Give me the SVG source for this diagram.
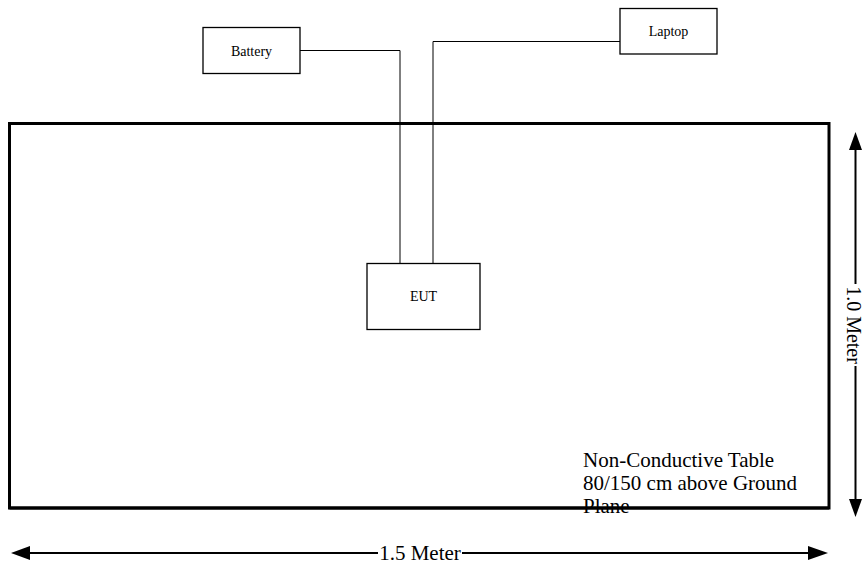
<svg xmlns="http://www.w3.org/2000/svg" width="865" height="570" viewBox="0 0 865 570">
<style>
.box{fill:#fff;stroke:#000;stroke-width:1.3}
.lbl{font-family:"Liberation Serif",serif;font-size:14px;fill:#000;text-anchor:middle}
.big{font-family:"Liberation Serif",serif;font-size:21px;fill:#000}
.wire{fill:none;stroke:#000;stroke-width:1}
.dim{fill:none;stroke:#000;stroke-width:2}
</style>
<rect id="table" x="9.5" y="123.5" width="819.5" height="384.5" fill="#fff" stroke="#000" stroke-width="3"/>
<g id="connectors">
<polyline class="wire" points="300,50.5 400,50.5 400,263"/>
<polyline class="wire" points="620,41.5 433,41.5 433,263"/>
<line class="dim" x1="855.5" y1="150" x2="855.5" y2="284"/>
<line class="dim" x1="855.5" y1="366" x2="855.5" y2="499"/>
<path d="M855.5,132 L862,150 L849,150 Z" fill="#000"/>
<path d="M855.5,517 L862,499 L849,499 Z" fill="#000"/>
<line class="dim" x1="30" y1="553" x2="378" y2="553"/>
<line class="dim" x1="462" y1="553" x2="808" y2="553"/>
<path d="M11,553 L30,546 L30,560 Z" fill="#000"/>
<path d="M828,553 L808,546 L808,560 Z" fill="#000"/>
</g>
<g id="battery">
<rect class="box" x="203" y="27.5" width="97" height="46"/>
<text class="lbl" x="251.5" y="56">Battery</text>
</g>
<g id="laptop">
<rect class="box" x="620" y="8.5" width="97" height="45.5"/>
<text class="lbl" x="668.5" y="36">Laptop</text>
</g>
<g id="eut">
<rect class="box" x="367" y="263.5" width="113" height="66"/>
<text class="lbl" x="423.5" y="301">EUT</text>
</g>
<g id="labels">
<text class="big" x="583" y="467">Non-Conductive Table</text>
<text class="big" x="583" y="490">80/150 cm above Ground</text>
<text class="big" x="583" y="513">Plane</text>
<text class="big" x="420" y="560" text-anchor="middle">1.5 Meter</text>
<text class="big" text-anchor="middle" transform="translate(847,325) rotate(90)" style="font-size:20px">1.0 Meter</text>
</g>
<line x1="9.5" y1="508" x2="829" y2="508" stroke="#000" stroke-width="3"/>
</svg>
